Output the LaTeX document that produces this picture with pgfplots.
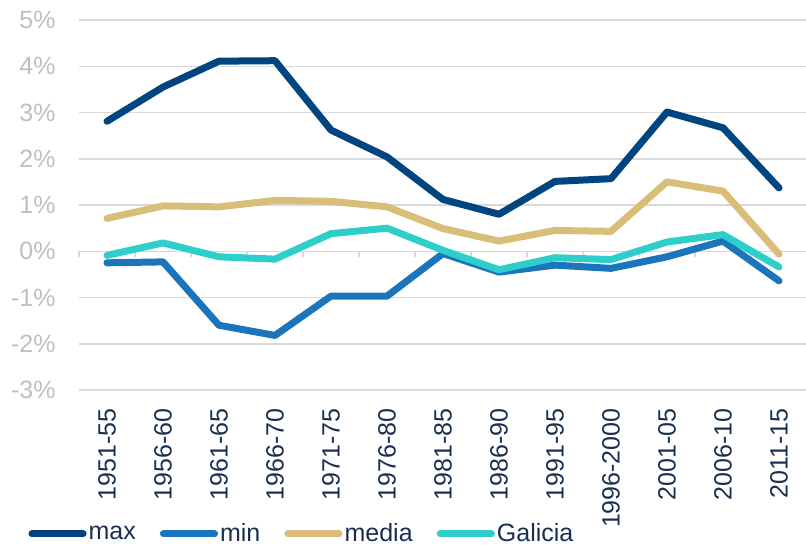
\documentclass[border=0pt]{standalone}
\usepackage{fontspec}
\setmainfont{Liberation Sans}
\usepackage{pgfplots}
\pgfplotsset{compat=1.18}

\definecolor{cmax}{HTML}{00457F}
\definecolor{cmin}{HTML}{1B75BC}
\definecolor{cmedia}{HTML}{D8BE78}
\definecolor{cgal}{HTML}{2ECECB}
\definecolor{labnavy}{HTML}{1A2E52}
\definecolor{ygray}{HTML}{BFBFBF}
\definecolor{gridc}{HTML}{D9D9D9}

\begin{document}
\begin{tikzpicture}
	\begin{axis}[
			scale only axis,
			width=364pt,
			height=185pt,
			xmin=-0.5, xmax=12.5,
			ymin=-3, ymax=5,
			xtick={0,...,12},
			xticklabels={1951-55,1956-60,1961-65,1966-70,1971-75,1976-80,1981-85,1986-90,1991-95,1996-2000,2001-05,2006-10,2011-15},
			x tick label style={rotate=90, anchor=east, text=labnavy, inner sep=0pt, yshift=0pt},
			xticklabel shift=9pt,
			ytick={-3,...,5},
			yticklabels={-3\%,-2\%,-1\%,0\%,1\%,2\%,3\%,4\%,5\%},
			y tick label style={text=ygray, inner sep=0pt},
			yticklabel shift=11.5pt,
			tick style={draw=none},
			axis line style={draw=none},
			ymajorgrids,
			grid style={gridc, line width=0.75pt},
			tick label style={font=\fontsize{12.5}{15}\selectfont},
			/pgf/number format/assume math mode=true,
			legend columns=4,
			legend style={
				at={(axis description cs:-0.07,-0.389)},
				anchor=west,
				draw=none, fill=none, inner sep=0pt,
				font=\fontsize{12.5}{15}\selectfont,
				text=labnavy,
				nodes={inner sep=1pt},
				/tikz/every even column/.append style={column sep=11pt},
			},
			legend image code/.code={
				\draw[#1, line width=3.5pt, line cap=round] (0.05cm,0cm) -- (0.95cm,0cm);
			},
			every axis plot/.append style={line width=3.5pt, line cap=round, line join=round, mark=none},
			clip=false,
		]

		\pgfplotsinvokeforeach{-0.5,0.5,...,12.5}{
			\draw[gridc, line width=0.75pt] (axis cs:#1,0) -- ([yshift=-3pt]axis cs:#1,0);
		}

		\addplot[color=cmax] coordinates {
				(0,2.81) (1,3.55) (2,4.11) (3,4.12) (4,2.62) (5,2.04) (6,1.12)
				(7,0.80) (8,1.51) (9,1.57) (10,3.01) (11,2.67) (12,1.37)
			};
		\addlegendentry{max}

		\addplot[color=cmin] coordinates {
				(0,-0.25) (1,-0.23) (2,-1.60) (3,-1.82) (4,-0.97) (5,-0.97) (6,-0.05)
				(7,-0.45) (8,-0.30) (9,-0.37) (10,-0.12) (11,0.22) (12,-0.64)
			};
		\addlegendentry{min}

		\addplot[color=cmedia] coordinates {
				(0,0.71) (1,0.98) (2,0.96) (3,1.10) (4,1.08) (5,0.96) (6,0.49)
				(7,0.22) (8,0.45) (9,0.43) (10,1.50) (11,1.30) (12,-0.06)
			};
		\addlegendentry{media}

		\addplot[color=cgal] coordinates {
				(0,-0.09) (1,0.18) (2,-0.12) (3,-0.17) (4,0.38) (5,0.50) (6,0.02)
				(7,-0.40) (8,-0.14) (9,-0.18) (10,0.20) (11,0.36) (12,-0.34)
			};
		\addlegendentry{Galicia}

	\end{axis}
	\pgfresetboundingbox
	\path (-39.5pt,-78pt) rectangle (363.5pt,195pt);
\end{tikzpicture}
\end{document}
